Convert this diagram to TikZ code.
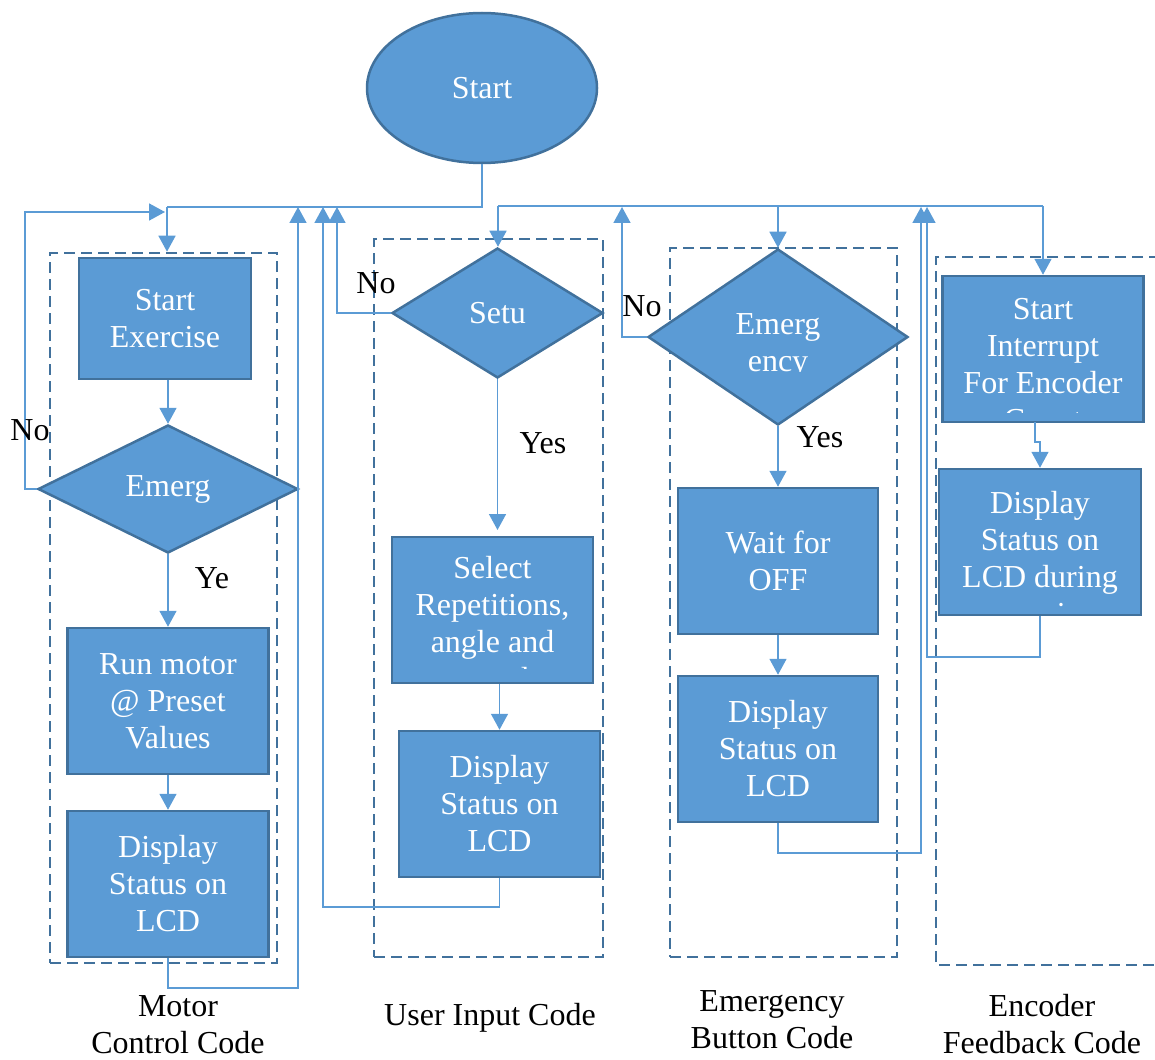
\documentclass[tikz,border=0pt]{standalone}
\usepackage{fontspec}
\setmainfont{Liberation Serif}
\usetikzlibrary{arrows.meta,shapes.geometric}

\definecolor{boxfill}{HTML}{5B9BD5}
\definecolor{boxline}{HTML}{41719C}
\definecolor{wire}{HTML}{5B9BD5}

\tikzset{
  txt/.style={font=\fontsize{32}{37}\selectfont, align=center},
  blk/.style={draw=boxline, line width=2.5pt, fill=boxfill, text=white, inner sep=0pt, txt},
  dia/.style={shape=diamond, draw=boxline, line width=2.5pt, fill=boxfill, text=white, inner sep=0pt, txt},
  term/.style={shape=ellipse, draw=boxline, line width=2.5pt, fill=boxfill, text=white, inner sep=0pt, txt},
  grp/.style={draw=boxline, line width=2.6pt, dash pattern=on 11pt off 6pt, inner sep=0pt},
  conn/.style={draw=wire, line width=1.6pt},
  arr/.style={conn, -{Triangle[length=16pt,width=17pt,fill=wire]}},
  lbl/.style={txt, text=black, inner sep=0pt},
}

\begin{document}
\begin{tikzpicture}[x=1pt, y=-1pt]
\useasboundingbox (0,0) rectangle (1155,1059);

% dashed group frames
\node[grp, minimum width=227pt, minimum height=710pt] (gM) at (163.5,608) {};
\node[grp, minimum width=229pt, minimum height=718pt] (gU) at (488.5,598) {};
\node[grp, minimum width=227pt, minimum height=709pt] (gE) at (783.5,602.5) {};
\draw[grp] (1160,257) -- (936,257) -- (936,965) -- (1160,965);

% start terminal
\node[term, minimum width=230pt, minimum height=150pt] (start) at (482,88) {Start};

% motor control column
\node[blk, minimum width=172pt, minimum height=121pt] (m1) at (165,318.5) {Start\\Exercise};
\node[dia, minimum width=260pt, minimum height=128pt] (m2) at (168,489) {Emerg};
\node[blk, minimum width=201pt, minimum height=146pt] (m3) at (168,701) {Run motor\\@ Preset\\Values};
\node[blk, minimum width=201pt, minimum height=146pt] (m4) at (168,884) {Display\\Status on\\LCD};

% user input column
\node[dia, minimum width=211pt, minimum height=130pt] (u1) at (497.5,313) {Setu};
\node[blk, minimum width=201pt, minimum height=146pt] (u2) at (492.5,610) {};
\begin{scope}
  \clip (392,537) rectangle (593,668);
  \node[txt, text=white, inner sep=0pt] (u2t) at (492.5,626) {Select\\Repetitions,\\angle and\\speed};
\end{scope}
\node[blk, minimum width=201pt, minimum height=146pt] (u3) at (499.5,804) {Display\\Status on\\LCD};

% emergency button column
\node[dia, minimum width=260pt, minimum height=176pt] (e1) at (778,337) {};
\begin{scope}
  \clip (690,290) rectangle (866,371);
  \node[txt, text=white, inner sep=0pt] (e1t) at (778,346) {Emerg\\ency};
\end{scope}
\node[blk, minimum width=200pt, minimum height=146pt] (e2) at (778,561) {Wait for\\OFF};
\node[blk, minimum width=200pt, minimum height=146pt] (e3) at (778,749) {Display\\Status on\\LCD};

% encoder feedback column
\node[blk, minimum width=201pt, minimum height=146pt] (c1) at (1043,349) {};
\begin{scope}
  \clip (943,276) rectangle (1144,412);
  \node[txt, text=white, inner sep=0pt] (c1t) at (1043,365) {Start\\Interrupt\\For Encoder\\Count};
\end{scope}
\node[blk, minimum width=202pt, minimum height=146pt] (c2) at (1040,542) {};
\begin{scope}
  \clip (939,469) rectangle (1141,607);
  \node[txt, text=white, inner sep=0pt] (c2t) at (1040,558) {Display\\Status on\\LCD during\\exercise};
\end{scope}

% bus points
\coordinate (hub) at (482,207);
\coordinate (busL) at (167,207);
\coordinate (busR) at (498,206);
\coordinate (busE) at (778,206);
\coordinate (busC) at (1043,206);

% distribution bus
\draw[conn] (start.south) -- (hub) -- (busL);
\draw[arr] (busL) -- (busL |- gM.north);
\draw[arr] (busR) -- (busR |- u1.north);
\draw[conn] (busR) -- (busC);
\draw[arr] (busE) -- (e1.north);
\draw[arr] (busC) -- (c1.north);

% motor control flow
\draw[arr] (m2.north |- m1.south) -- (m2.north);
\draw[arr] (m2.south) -- (m3.north);
\draw[arr] (m3.south) -- (m4.north);
\draw[arr] (m2.west) -- (25,489) -- (25,212) -- (165,212);
\draw[arr] (m4.south) -- (168,988) -- (298,988) -- (298,207);

% user input flow
\draw[arr] (u1.south) -- (497.5,530);
\draw[arr] (u3.north |- u2.south) -- (u3.north);
\draw[arr] (u1.west) -- (337,313) -- (337,207);
\draw[arr] (u3.south) -- (499.5,907) -- (323,907) -- (323,207);

% emergency flow
\draw[arr] (e1.south) -- (e2.north);
\draw[arr] (e2.south) -- (e3.north);
\draw[arr] (e1.west) -- (622,337) -- (622,207);
\draw[arr] (e3.south) -- (778,853) -- (921,853) -- (921,207);

% encoder flow
\draw[arr] (1035,422) -- (1035,442) -- (1040,442) -- (c2.north);
\draw[arr] (c2.south) -- (1040,657) -- (927,657) -- (927,207);

% branch labels
\node[lbl] (no1) at (30,430) {No};
\node[lbl] (ye1) at (212,578) {Ye};
\node[lbl] (no2) at (376,283) {No};
\node[lbl] (yes2) at (543,443) {Yes};
\node[lbl] (no3) at (642,306) {No};
\node[lbl] (yes3) at (820,437) {Yes};

% column captions
\node[lbl] (capM) at (178,1025) {Motor\\Control Code};
\node[lbl] (capU) at (490,1018) {User Input Code};
\node[lbl] (capE) at (772,1020) {Emergency\\Button Code};
\node[lbl] (capC) at (1042,1024) {Encoder\\Feedback Code};
\end{tikzpicture}
\end{document}
